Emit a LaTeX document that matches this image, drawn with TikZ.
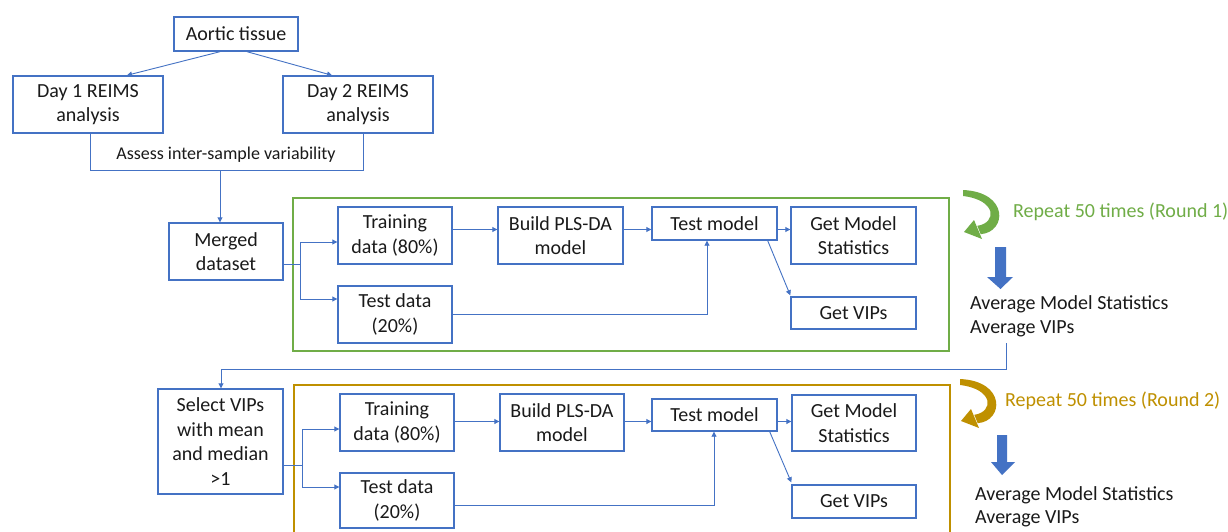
\documentclass[tikz,border=0pt]{standalone}
\usepackage{fontspec}
\setmainfont{Carlito}
\usetikzlibrary{arrows.meta,calc}
\definecolor{bblue}{HTML}{4472C4}
\definecolor{ggreen}{HTML}{70AD47}
\definecolor{ggold}{HTML}{BF9000}
\definecolor{txt}{HTML}{1A1A1A}
\newcommand{\crescentarrow}[3]{%
  \begin{scope}[shift={(#1,#2)}]
    \fill[#3] (0,0) .. controls (46,2) and (44,42) .. (17.7,44.2)
      -- (14.3,35.8) .. controls (34,33) and (34,10) .. (0,6) -- cycle;
    \fill[#3] (11,30) -- (19,49) -- (1,42) -- cycle;
  \end{scope}}
\begin{document}
\begin{tikzpicture}[x=1pt,y=-1pt,
  box/.style={draw=bblue, line width=1.4pt, fill=white, inner sep=0pt, align=center,
    text=txt, font=\fontsize{20}{24.5}\selectfont},
  conn/.style={draw=bblue, line width=0.9pt},
  arr/.style={conn, -{Triangle[length=5pt,width=5pt]}},
  frameline/.style={line width=2.4pt},
  lbl/.style={inner sep=0pt, font=\fontsize{20}{23.5}\selectfont, align=left, anchor=west},
  bigarrow/.style={fill=bblue}]
\useasboundingbox (0,0) rectangle (1228,532);
\fill[white] (0,0) rectangle (1228,532);
\clip (0,0) rectangle (1228,532);

% ---- top part
\node[box, minimum width=124pt, minimum height=34pt] (aortic) at (236,34) {Aortic tissue};
\node[box, minimum width=150pt, minimum height=57pt] (day1) at (88,104.5) {Day 1 REIMS\\analysis};
\node[box, minimum width=150pt, minimum height=57pt] (day2) at (358,104.5) {Day 2 REIMS\\analysis};
\draw[arr] ($(aortic.south)+(-16,0)$) -- ($(day1.north)+(39,0)$);
\draw[arr] ($(aortic.south)+(11,0)$) -- ($(day2.north)+(-26,0)$);
\coordinate (bl) at (90,170);
\coordinate (br) at (363,170);
\coordinate (bm) at (220,170);
\draw[conn] (day1.south -| bl) -- (bl) -- (br) -- (day2.south -| br);
\node[inner sep=0pt, text=txt, font=\fontsize{18}{22}\selectfont] (assess) at (226,155) {Assess inter-sample variability};

% ---- round 1
\draw[ggreen, frameline] (293,198) rectangle (949,351);
\node[box, minimum width=114pt, minimum height=57pt] (merged) at (226,251.5) {Merged\\dataset};
\draw[arr] (bm) -- (bm |- merged.north);
\node[box, minimum width=114pt, minimum height=57pt] (train1) at (395,235.5) {Training\\data (80\%)};
\node[box, minimum width=125pt, minimum height=57pt] (build1) at (560.5,235.5) {Build PLS-DA\\model};
\node[box, minimum width=114pt, minimum height=57pt] (test1) at (395,314.5) {Test data\\(20\%)};
\node[box, minimum width=125pt, minimum height=33pt] (tm1) at (714.5,223.5) {Test model};
\node[box, minimum width=125pt, minimum height=57pt] (gms1) at (853.5,235.5) {Get Model\\Statistics};
\node[box, minimum width=125pt, minimum height=32pt] (gv1) at (853.5,313) {Get VIPs};

\coordinate (sp1) at (300,264);
\coordinate (sp1a) at (300,242);
\coordinate (sp1b) at (300,299);
\coordinate (y1) at (0,229.5);
\coordinate (v1) at (707,314.5);
\draw[conn] (merged.east |- sp1) -- (sp1);
\draw[arr] (sp1) -- (sp1a) -- (train1.west |- sp1a);
\draw[arr] (sp1) -- (sp1b) -- (test1.west |- sp1b);
\draw[arr] (train1.east |- y1) -- (build1.west |- y1);
\draw[arr] (build1.east |- y1) -- (tm1.west |- y1);
\draw[arr] (tm1.east |- y1) -- (gms1.west |- y1);
\draw[arr] (test1.east) -- (v1) -- (v1 |- tm1.south);
\draw[arr] ($(tm1.south east)+(-10,0)$) -- ($(gv1.north west)+(0,-1)$);

\crescentarrow{963}{190}{ggreen}
\node[lbl, text=ggreen] (rep1) at (1013,212) {Repeat 50 times (Round 1)};
\fill[bigarrow] (995,247) -- (1006,247) -- (1006,277) -- (1013,277) -- (1000.5,289) -- (987,277) -- (995,277) -- cycle;
\node[lbl, text=txt] (avg1) at (970,316.5) {Average Model Statistics\\Average VIPs};

% ---- round 2
\draw[ggold, frameline] (294,385) rectangle (950,560);
\node[box, minimum width=125pt, minimum height=105pt] (select) at (220.5,441.5) {Select VIPs\\with mean\\and median\\>1};
\coordinate (c1) at (1006,369);
\coordinate (c2) at (221,369);
\draw[arr] (c1 |- 0,343) -- (c1) -- (c2) -- (c2 |- select.north);

\node[box, minimum width=114pt, minimum height=57pt] (train2) at (397,422.5) {Training\\data (80\%)};
\node[box, minimum width=124pt, minimum height=57pt] (build2) at (562,422.5) {Build PLS-DA\\model};
\node[box, minimum width=114pt, minimum height=55pt] (test2) at (397,500.5) {Test data\\(20\%)};
\node[box, minimum width=125pt, minimum height=32pt] (tm2) at (714.5,415) {Test model};
\node[box, minimum width=124pt, minimum height=56pt] (gms2) at (854,423) {Get Model\\Statistics};
\node[box, minimum width=124pt, minimum height=33pt] (gv2) at (854,501.5) {Get VIPs};

\coordinate (sp2) at (302,465);
\coordinate (sp2a) at (302,429);
\coordinate (sp2b) at (302,487);
\coordinate (y2) at (0,421.5);
\coordinate (v2) at (714,505);
\draw[conn] (select.east |- sp2) -- (sp2);
\draw[arr] (sp2) -- (sp2a) -- (train2.west |- sp2a);
\draw[arr] (sp2) -- (sp2b) -- (test2.west |- sp2b);
\draw[arr] (train2.east |- y2) -- (build2.west |- y2);
\draw[arr] (build2.east |- y2) -- (tm2.west |- y2);
\draw[arr] (tm2.east |- y2) -- (gms2.west |- y2);
\draw[arr] (test2.east |- v2) -- (v2) -- (v2 |- tm2.south);
\draw[arr] ($(tm2.south east)+(-8,0)$) -- ($(gv2.north west)+(0,-2)$);

\crescentarrow{960}{379}{ggold}
\node[lbl, text=ggold] (rep2) at (1005,401) {Repeat 50 times (Round 2)};
\fill[bigarrow] (997,435) -- (1007,435) -- (1007,462) -- (1015,462) -- (1002,475) -- (991,462) -- (997,462) -- cycle;
\node[lbl, text=txt] (avg2) at (975,507) {Average Model Statistics\\Average VIPs};
\end{tikzpicture}
\end{document}
